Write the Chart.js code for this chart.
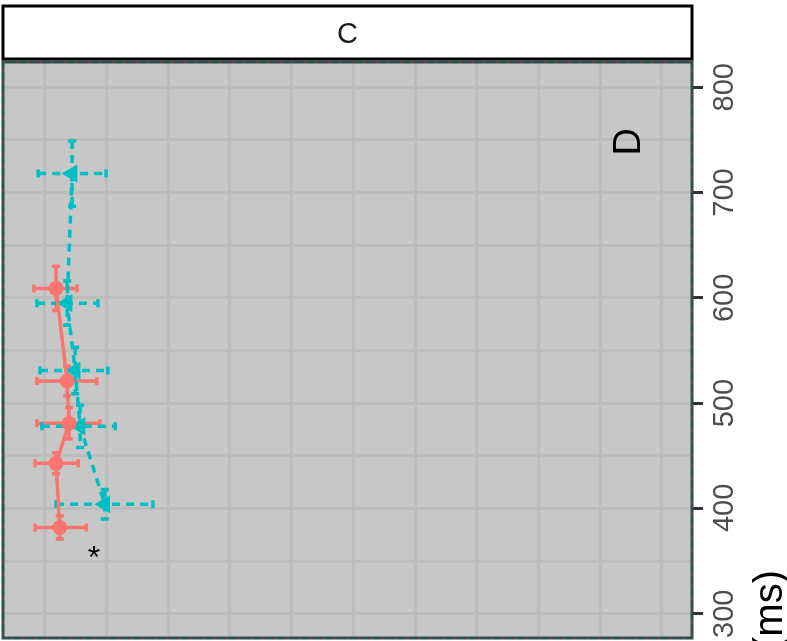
<!DOCTYPE html>
<html>
<head>
<meta charset="utf-8">
<script src="https://cdn.jsdelivr.net/npm/chart.js@4.4.0/dist/chart.umd.min.js"></script>
<style>
  html, body { margin: 0; padding: 0; background: #fff; }
  .chart-container { width: 787px; height: 641px; position: relative; }
</style>
</head>
<body>
<div class="chart-container"><canvas id="chart"></canvas></div>
<script>
// red group: circles, solid line
const redX = [0.18, 0.36, 0.39, 0.18, 0.24];
const redY = [609, 521, 481, 443, 382];
const redXLow = [-0.18, -0.13, -0.13, -0.16, -0.16];
const redXHigh = [0.52, 0.84, 0.89, 0.54, 0.67];
const redYErr = [21, 14, 15, 10, 11];

// cyan group: triangles, dashed line
const cyanX = [0.44, 0.36, 0.49, 0.57, 0.97];
const cyanY = [718, 595, 531, 478, 404];
const cyanXLow = [-0.11, -0.13, -0.08, -0.05, 0.18];
const cyanXHigh = [0.99, 0.86, 1.02, 1.14, 1.75];
const cyanYErr = [31, 21, 22, 20, 14];

const yTicks = [300, 400, 500, 600, 700, 800];
const stripLabel = "C";
const axisTitle = "Reaction time (ms)";
const noteText = ["D", "*"];
const noteX = [9.43, 0.79];
const noteY = [749, 359];

const RED = "#F8766D";
const CYAN = "#00BFC4";
const FONT = "'Liberation Sans', Arial, sans-serif";

const toPoints = (xs, ys) => xs.map((x, i) => ({ x: x, y: ys[i] }));

// draw text with its ink centred on (cx, cy), optionally turned 90deg left
function inkText(ctx, text, cx, cy, size, color, rotate) {
    ctx.save();
    ctx.font = size + "px " + FONT;
    ctx.fillStyle = color;
    ctx.textAlign = "center";
    ctx.textBaseline = "alphabetic";
    const m = ctx.measureText(text);
    const dy = (m.actualBoundingBoxAscent - m.actualBoundingBoxDescent) / 2;
    const dx = (m.actualBoundingBoxRight - m.actualBoundingBoxLeft) / 2;
    ctx.translate(cx, cy);
    if (rotate) ctx.rotate(-Math.PI / 2);
    ctx.fillText(text, -dx, dy);
    ctx.restore();
}

const errorBars = {
    id: "errorBars",
    beforeDatasetsDraw(chart) {
        const ctx = chart.ctx;
        const xs = chart.scales.x;
        const ys = chart.scales.y;
        chart.data.datasets.forEach((ds) => {
            ctx.save();
            ctx.strokeStyle = ds.borderColor;
            ctx.lineWidth = ds.borderWidth;
            ds.data.forEach((p, i) => {
                const px = xs.getPixelForValue(p.x);
                const py = ys.getPixelForValue(p.y);
                const x0 = xs.getPixelForValue(ds.xLow[i]);
                const x1 = xs.getPixelForValue(ds.xHigh[i]);
                const y0 = ys.getPixelForValue(p.y + ds.yErr[i]);
                const y1 = ys.getPixelForValue(p.y - ds.yErr[i]);
                ctx.setLineDash(ds.borderDash || []);
                ctx.beginPath();
                ctx.moveTo(x0, py); ctx.lineTo(x1, py);
                ctx.moveTo(px, y0); ctx.lineTo(px, y1);
                ctx.stroke();
                ctx.setLineDash([]);
                ctx.beginPath();
                ctx.moveTo(x0, py - 4); ctx.lineTo(x0, py + 4);
                ctx.moveTo(x1, py - 4); ctx.lineTo(x1, py + 4);
                ctx.moveTo(px - 4, y0); ctx.lineTo(px + 4, y0);
                ctx.moveTo(px - 4, y1); ctx.lineTo(px + 4, y1);
                ctx.stroke();
            });
            ctx.restore();
        });
    },
};

const panel = {
    id: "panel",
    beforeDraw(chart) {
        const { ctx, chartArea: a } = chart;
        ctx.save();
        ctx.fillStyle = "#ffffff";
        ctx.fillRect(0, 0, chart.width, chart.height);
        ctx.fillStyle = "#c7c7c7";
        ctx.fillRect(a.left, a.top, a.right - a.left, a.bottom - a.top);
        ctx.restore();
    },
    afterDraw(chart) {
        const { ctx, chartArea: a } = chart;
        const ys = chart.scales.y;
        const xs = chart.scales.x;
        ctx.save();
        // panel border
        ctx.strokeStyle = "#2f4f4f";
        ctx.lineWidth = 3;
        ctx.strokeRect(a.left, a.top, a.right - a.left, a.bottom - a.top);
        ctx.strokeStyle = "rgba(150, 60, 60, 0.7)";
        ctx.lineWidth = 1.5;
        ctx.setLineDash([3, 9]);
        ctx.strokeRect(a.left, a.top, a.right - a.left, a.bottom - a.top);
        ctx.setLineDash([]);
        // facet strip
        ctx.fillStyle = "#ffffff";
        ctx.fillRect(a.left, 6, a.right - a.left, 53);
        ctx.strokeStyle = "#000000";
        ctx.lineWidth = 3;
        ctx.strokeRect(a.left, 6, a.right - a.left, 53);
        ctx.restore();
        inkText(ctx, stripLabel, (a.left + a.right) / 2, 33, 29, "#1a1a1a", false);

        // y tick labels, turned
        yTicks.forEach((v) => {
            inkText(ctx, String(v), ys.left + 30.5, ys.getPixelForValue(v), 29, "#4d4d4d", true);
        });

        // axis title, mostly below the window
        ctx.save();
        ctx.font = "40px " + FONT;
        ctx.fillStyle = "#000000";
        ctx.textAlign = "right";
        ctx.textBaseline = "alphabetic";
        ctx.translate(ys.right - 5, a.bottom - 68);
        ctx.rotate(-Math.PI / 2);
        ctx.fillText(axisTitle, 0, 0);
        ctx.restore();

        // annotations
        inkText(ctx, noteText[0], xs.getPixelForValue(noteX[0]), ys.getPixelForValue(noteY[0]), 38, "#000000", true);
        inkText(ctx, noteText[1], xs.getPixelForValue(noteX[1]), ys.getPixelForValue(noteY[1]), 32, "#000000", false);
    },
};

const gridColor = "#bcbcbc";

new Chart(document.getElementById("chart").getContext("2d"), {
    type: "scatter",
    data: {
        datasets: [
            {
                label: "red",
                data: toPoints(redX, redY),
                xLow: redXLow,
                xHigh: redXHigh,
                yErr: redYErr,
                showLine: true,
                borderColor: RED,
                backgroundColor: RED,
                borderWidth: 3.5,
                pointStyle: "circle",
                pointRadius: 7.5,
                pointBorderWidth: 0,
            },
            {
                label: "cyan",
                data: toPoints(cyanX, cyanY),
                xLow: cyanXLow,
                xHigh: cyanXHigh,
                yErr: cyanYErr,
                showLine: true,
                borderColor: CYAN,
                backgroundColor: CYAN,
                borderWidth: 3.5,
                borderDash: [8, 6],
                pointStyle: "triangle",
                pointRotation: -90,
                pointRadius: 10.5,
                pointBorderWidth: 0,
            },
        ],
    },
    options: {
        responsive: true,
        maintainAspectRatio: false,
        animation: false,
        layout: { autoPadding: false, padding: { top: 62, left: 3, right: 0, bottom: 0 } },
        plugins: {
            legend: { display: false },
            tooltip: { enabled: false },
        },
        scales: {
            x: {
                type: "linear",
                min: -0.68,
                max: 10.49,
                ticks: { display: false, stepSize: 1, includeBounds: false },
                grid: { color: gridColor, lineWidth: 3, drawTicks: false },
                border: { display: false },
                afterFit: (scale) => { scale.height = 3; },
            },
            y: {
                type: "linear",
                position: "right",
                min: 277,
                max: 824,
                ticks: { display: false, stepSize: 50, includeBounds: false },
                grid: {
                    color: gridColor,
                    lineWidth: 3,
                    drawTicks: true,
                    tickLength: 11,
                    tickWidth: 3,
                    tickColor: (c) => (c.tick && c.tick.value % 100 === 0 ? "#333333" : "rgba(0,0,0,0)"),
                },
                border: { display: false },
                afterFit: (scale) => { scale.width = 95; },
            },
        },
    },
    plugins: [panel, errorBars],
});
</script>
</body>
</html>
